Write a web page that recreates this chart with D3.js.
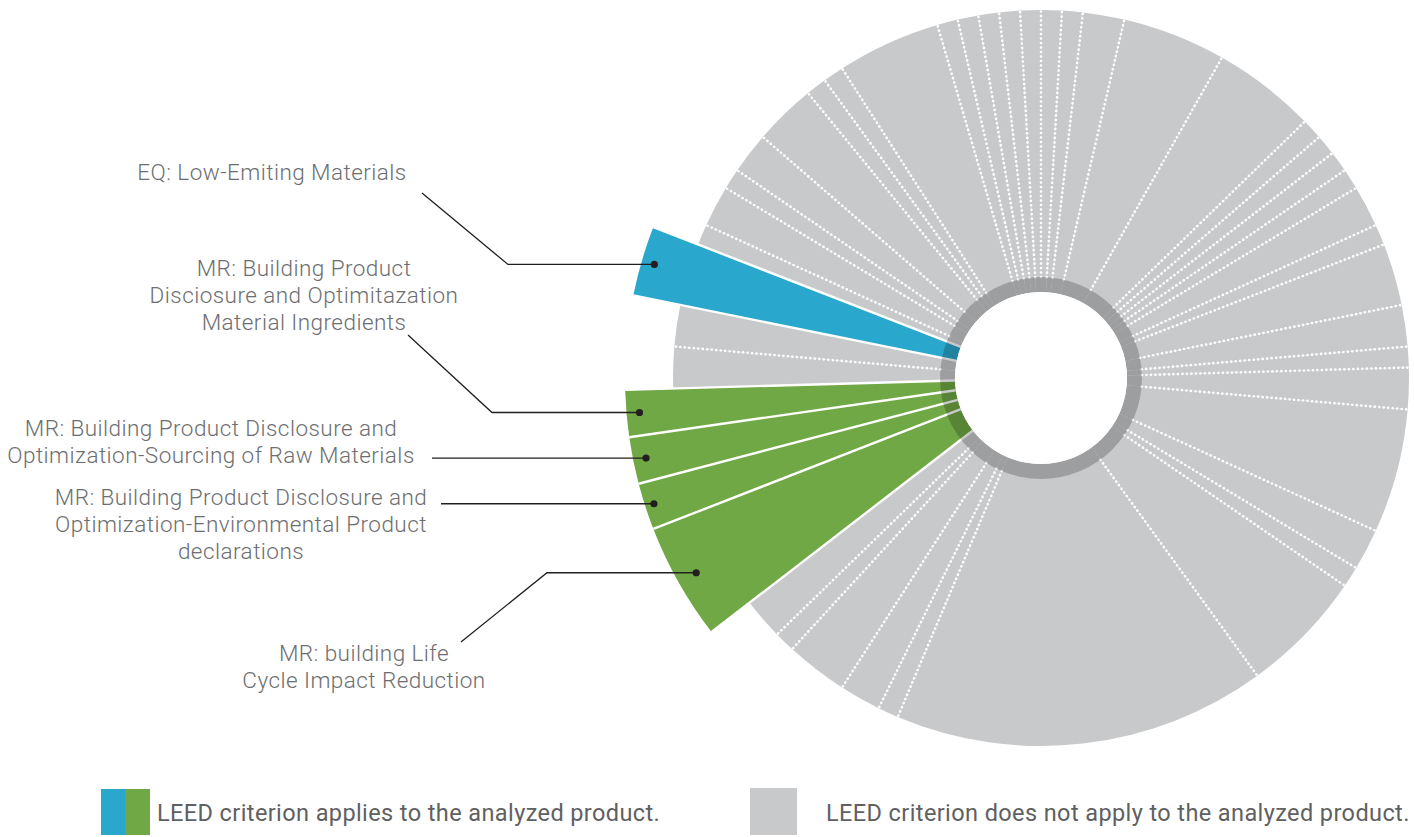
<!DOCTYPE html>
<html>
<head>
<meta charset="utf-8">
<script src="https://cdn.jsdelivr.net/npm/d3@7"></script>
<style>
  body { margin: 0; background: #fff; }
  svg { display: block; }
  text { font-family: Roboto, "Liberation Sans", sans-serif; }
</style>
</head>
<body>
<svg id="chart" width="1414" height="837"></svg>
<script>
// LEED v4 credits, in points (110 in total), clockwise from 12 o'clock
var points = [1, 1, 2, 5, 5, 1, 1, 1, 1, 2, 1, 3, 2, 1, 2, 6, 2, 1, 6, 18, 1, 2, 3, 1, 2,
              5, 2, 2, 2, 2, 2, 3, 1, 2, 1, 2, 3, 1, 1, 5, 1, 1, 1, 1, 1];
// which credits apply to the product: "" = not applicable
var applies = ["", "", "", "", "", "", "", "", "", "", "", "", "", "", "", "", "", "", "", "", "", "", "", "", "",
               "MR", "MR", "MR", "MR", "", "", "EQ", "", "", "", "", "", "", "", "", "", "", "", "", ""];

// callouts
var calloutSlice = [31, 28, 27, 26, 25];
var calloutText = [
  ["EQ: Low-Emiting Materials"],
  ["MR: Building Product", "Disciosure and Optimitazation", "Material Ingredients"],
  ["MR: Building Product Disclosure and", "Optimization-Sourcing of Raw Materials"],
  ["MR: Building Product Disclosure and", "Optimization-Environmental Product", "declarations"],
  ["MR: building Life", "Cycle Impact Reduction"]
];

var legendText = ["LEED criterion applies to the analyzed product.",
                  "LEED criterion does not apply to the analyzed product."];

var colors = { "": "#c8c9cb", MR: "#70a845", EQ: "#29a7cc" };

var svg = d3.select("#chart");
var cx = 1041, cy = 378;
var rHole = 86, rRing = 101, rOuter = 368, rHigh = 416;

var pie = d3.pie().sort(null).value(function(d) { return d; });
var arcs = pie(points);

var arc = d3.arc()
  .innerRadius(rHole)
  .outerRadius(function(d) { return applies[d.index] ? rHigh : rOuter; });

var g = svg.append("g").attr("transform", "translate(" + cx + "," + cy + ")");

g.selectAll("path.slice")
  .data(arcs)
  .enter().append("path")
  .attr("class", "slice")
  .attr("d", arc)
  .attr("fill", function(d) { return colors[applies[d.index]]; });

function pt(a, r) { return [Math.sin(a) * r, -Math.cos(a) * r]; }

// separators between slices: solid next to a highlighted credit, dotted otherwise
arcs.forEach(function(d, i) {
  var prev = (i - 1 + arcs.length) % arcs.length;
  var hi = applies[i] || applies[prev];
  var a = d.startAngle;
  var p0 = pt(a, hi ? rHole : rRing), p1 = pt(a, hi ? rHigh : rOuter);
  g.append("line")
    .attr("x1", p0[0]).attr("y1", p0[1])
    .attr("x2", p1[0]).attr("y2", p1[1])
    .attr("stroke", "#fff")
    .attr("stroke-width", hi ? 2.4 : 2.7)
    .attr("stroke-linecap", hi ? "butt" : "round")
    .attr("stroke-dasharray", hi ? null : "0 4.5");
});

// ring + hole
g.append("path")
  .attr("d", d3.arc().innerRadius(rHole).outerRadius(rRing).startAngle(0).endAngle(2 * Math.PI)())
  .attr("fill", "#000").attr("fill-opacity", 0.21);
g.append("circle").attr("r", rHole).attr("fill", "#fff");

// callout leaders
var elbow = [[508, 422, 193], [492, 408, 335], [432, null, null], [441, null, null], [547, 461, 642]];
var dotR = [403, 403, 403, 407, 396];
calloutSlice.forEach(function(s, i) {
  var d = arcs[s];
  var p = pt((d.startAngle + d.endAngle) / 2, dotR[i]);
  var x = cx + p[0], y = cy + p[1];
  var pts = [[x, y], [elbow[i][0], y]];
  if (elbow[i][1] != null) pts.push([elbow[i][1], elbow[i][2]]);
  svg.append("path")
    .attr("d", d3.line()(pts))
    .attr("fill", "none").attr("stroke", "#231f20").attr("stroke-width", 1.3);
  svg.append("circle").attr("cx", x).attr("cy", y).attr("r", 3.6).attr("fill", "#231f20");
});

// callout labels
var labelPos = [[272, 180], [304, 276], [211, 436], [241, 505], [364, 661]];
calloutText.forEach(function(lines, i) {
  var t = svg.append("text")
    .attr("x", labelPos[i][0]).attr("y", labelPos[i][1])
    .attr("text-anchor", "middle")
    .attr("fill", "#6d6e71")
    .attr("font-size", 22.5)
    .attr("font-weight", 300)
    .attr("letter-spacing", 0.45);
  lines.forEach(function(l, j) {
    t.append("tspan").attr("x", labelPos[i][0]).attr("dy", j ? 27 : 0).text(l);
  });
});

// legend
var lg = svg.append("g");
lg.append("rect").attr("x", 101).attr("y", 789).attr("width", 24).attr("height", 46).attr("fill", colors.EQ);
lg.append("rect").attr("x", 125).attr("y", 789).attr("width", 25).attr("height", 46).attr("fill", colors.MR);
lg.append("text").attr("x", 157).attr("y", 821).attr("font-size", 23.5).attr("letter-spacing", 0.4)
  .attr("fill", "#5f6062").text(legendText[0]);
lg.append("rect").attr("x", 750).attr("y", 788).attr("width", 47).attr("height", 47).attr("fill", colors[""]);
lg.append("text").attr("x", 826).attr("y", 821).attr("font-size", 23.5).attr("letter-spacing", 0.4)
  .attr("fill", "#5f6062").text(legendText[1]);
</script>
</body>
</html>
